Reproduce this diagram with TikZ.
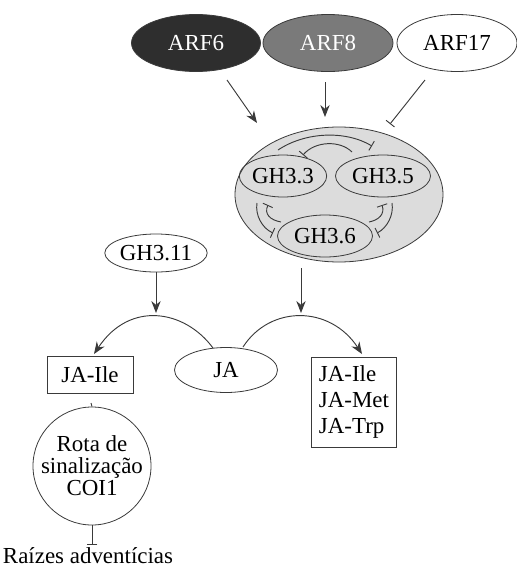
\documentclass[tikz,border=0pt]{standalone}
\usepackage{fontspec}
\setmainfont{Liberation Serif}
\usetikzlibrary{arrows.meta,shapes.geometric}
\definecolor{linegray}{HTML}{3A3A3A}
\definecolor{darkfill}{HTML}{2E2E2E}
\definecolor{midfill}{HTML}{7A7A7A}
\definecolor{lightfill}{HTML}{DCDCDC}
\begin{document}
\begin{tikzpicture}[x=0.75pt,y=-0.75pt,
  every node/.style={font=\fontsize{17.2}{19.5}\selectfont, text=black},
  ell/.style={ellipse, draw=linegray, line width=0.6pt, inner sep=0pt},
  box/.style={rectangle, draw=linegray, line width=0.6pt},
  conn/.style={draw=linegray, line width=0.7pt},
  act/.style={conn, -{Stealth[length=9pt,width=7pt]}},
  inh/.style={conn, -{Bar[width=8pt]}}]
\useasboundingbox (0,0) rectangle (517,568);
% top ellipses
\node[ell, fill=darkfill, text=white, minimum width=129pt*0.75, minimum height=57pt*0.75] (arf6) at (196,43) {ARF6};
\node[ell, fill=midfill, text=white, minimum width=130pt*0.75, minimum height=57pt*0.75] (arf8) at (328,43) {ARF8};
\node[ell, fill=white, minimum width=120pt*0.75, minimum height=57pt*0.75] (arf17) at (457,43) {ARF17};
% big grey ellipse
\node[ell, fill=lightfill, minimum width=208pt*0.75, minimum height=135pt*0.75] (big) at (339,194.5) {};
\node[ell, minimum width=80pt*0.75, minimum height=42pt*0.75] (g33) at (283,176) {GH3.3};
\node[ell, minimum width=95pt*0.75, minimum height=42pt*0.75] (g35) at (383,176) {GH3.5};
\node[ell, minimum width=95pt*0.75, minimum height=42pt*0.75] (g36) at (325,236) {GH3.6};
% coordinates for arrows from ARFs
\coordinate (a6s) at (227,80);
\coordinate (a6e) at (257,123);
\coordinate (a8s) at (325,82);
\coordinate (a8e) at (325,117);
\coordinate (a17s) at (425,80);
\coordinate (a17e) at (390,124);
\draw[act] (a6s) -- (a6e);
\draw[act] (a8s) -- (a8e);
\draw[inh] (a17s) -- (a17e);
% inner regulation arcs
\coordinate (t1) at (278,150); \coordinate (t2) at (372,146);
\draw[inh] (t1) .. controls (305,132) and (345,130) .. (t2);
\coordinate (t3) at (352,152); \coordinate (t4) at (303,155);
\draw[inh] (t3) .. controls (340,140) and (315,141) .. (t4);
\coordinate (l1) at (257,203); \coordinate (l2) at (273,233);
\draw[inh] (l1) .. controls (255,215) and (262,228) .. (l2);
\coordinate (l3) at (281,222); \coordinate (l4) at (268,205);
\draw[inh] (l3) .. controls (270,220) and (264,214) .. (l4);
\coordinate (r1) at (392,203); \coordinate (r2) at (377,233);
\draw[inh] (r1) .. controls (394,215) and (387,228) .. (r2);
\coordinate (r3) at (369,222); \coordinate (r4) at (382,205);
\draw[inh] (r3) .. controls (379,220) and (385,214) .. (r4);
% lower part
\node[ell, fill=white, minimum width=98pt*0.75, minimum height=38pt*0.75] (g311) at (156,253) {GH3.11};
\node[ell, fill=white, minimum width=103pt*0.75, minimum height=45pt*0.75] (ja) at (226,370) {JA};
\node[box, minimum width=86pt*0.75, minimum height=37pt*0.75] (jaile) at (90,375) {JA-Ile};
\node[box, minimum width=85pt*0.75, minimum height=90pt*0.75, align=left, inner sep=2pt] (conj) at (354,402) {JA-Ile\\JA-Met\\JA-Trp};
\node[ell, circle, minimum size=112pt*0.75, align=center, inner sep=0pt] (coi) at (92,466) {Rota de\\[-3pt]sinalização\\[-3pt]COI1};
\node (raiz) at (88,556) {Raízes adventícias};
% arrows
\coordinate (bigB) at (301,268);
\draw[act] (g311) -- (156,313);
\draw[act] (bigB) -- (301,313);
\coordinate (jaL) at (213,348);
\coordinate (jaR) at (243,347);
\coordinate (jaileT) at (94,354);
\coordinate (conjT) at (362,354);
\draw[act] (jaL) .. controls (185,310) and (130,300) .. (jaileT);
\draw[act] (jaR) .. controls (270,305) and (330,305) .. (conjT);
\coordinate (jaileB) at (91,403);
\draw[conn] (jaileB) -- (coi.north);
\coordinate (raizT) at (92,545);
\draw[inh] (coi.south) -- (raizT);
\end{tikzpicture}
\end{document}
